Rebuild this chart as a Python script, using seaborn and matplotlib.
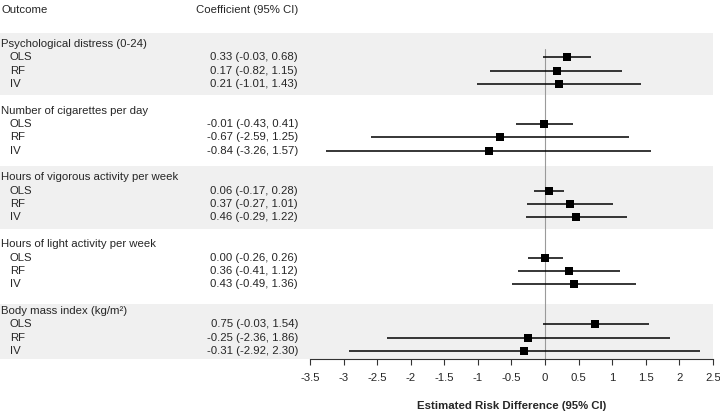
import matplotlib
matplotlib.use("Agg")
import matplotlib.pyplot as plt
import matplotlib.transforms as mtransforms
from matplotlib.patches import Rectangle
import seaborn as sns
import pandas as pd

# data
outcomes = [
    "Psychological distress (0-24)",
    "Number of cigarettes per day",
    "Hours of vigorous activity per week",
    "Hours of light activity per week",
    "Body mass index (kg/m\u00b2)",
]
methods = ["OLS", "RF", "IV"]
estimate = [0.33, 0.17, 0.21, -0.01, -0.67, -0.84, 0.06, 0.37, 0.46,
            0.00, 0.36, 0.43, 0.75, -0.25, -0.31]
lower = [-0.03, -0.82, -1.01, -0.43, -2.59, -3.26, -0.17, -0.27, -0.29,
         -0.26, -0.41, -0.49, -0.03, -2.36, -2.92]
upper = [0.68, 1.15, 1.43, 0.41, 1.25, 1.57, 0.28, 1.01, 1.22,
         0.26, 1.12, 1.36, 1.54, 1.86, 2.30]
xticks = [-3.5, -3, -2.5, -2, -1.5, -1, -0.5, 0, 0.5, 1, 1.5, 2, 2.5]

# row layout: each outcome = label row + 3 method rows + blank row
rows = []
for g, name in enumerate(outcomes):
    for m, meth in enumerate(methods):
        rows.append({"outcome": name, "method": meth, "row": 5 * g + 1 + m})
df = pd.DataFrame(rows)
df["est"] = estimate
df["lo"] = lower
df["hi"] = upper

sns.set_style("white")
plt.rcParams["font.family"] = ["Liberation Sans", "DejaVu Sans"]
fs = 8.2

fig = plt.figure(figsize=(7.2, 4.11), dpi=100)
ax = fig.add_axes([310 / 720, 52 / 411, 403 / 720, 326 / 411])
ylim = (23.6, -0.82)
ax.set_ylim(*ylim)
ax.set_xlim(-3.5, 2.5)

trans = mtransforms.blended_transform_factory(fig.transFigure, ax.transData)

# grey bands behind groups 1, 3, 5
for g in (0, 2, 4):
    top = 5 * g - (0.55 if g == 4 else 0.85)
    bottom = min(5 * g + 3.85, ylim[0])
    ax.add_patch(Rectangle((0, top), 713 / 720, bottom - top, transform=trans,
                           facecolor="#f0f0f0", edgecolor="none", clip_on=False, zorder=0))

# zero reference line
ax.plot([0, 0], [0.37, ylim[0]], color="#9a9a9a", lw=0.8, zorder=1)

# confidence intervals and point estimates
ax.hlines(df["row"], df["lo"], df["hi"], color="black", lw=1.1, zorder=2)
sns.scatterplot(data=df, x="est", y="row", marker="s", s=26, color="black",
                edgecolor="black", linewidth=0, ax=ax, zorder=3, legend=False)

# text columns
ax.text(1 / 720, -2.55, "Outcome", transform=trans, fontsize=fs, va="center", ha="left")
ax.text(298 / 720, -2.55, "Coefficient (95% CI)", transform=trans, fontsize=fs,
        va="center", ha="right")
for g, name in enumerate(outcomes):
    ax.text(1 / 720, 5 * g, name, transform=trans, fontsize=fs, va="center", ha="left")
for _, r in df.iterrows():
    ax.text(10 / 720, r["row"], r["method"], transform=trans, fontsize=fs,
            va="center", ha="left")
    ax.text(298 / 720, r["row"], f"{r['est']:.2f} ({r['lo']:.2f}, {r['hi']:.2f})",
            transform=trans, fontsize=fs, va="center", ha="right")

# axis styling
for s in ("top", "right", "left"):
    ax.spines[s].set_visible(False)
ax.spines["bottom"].set_color("#333333")
ax.spines["bottom"].set_linewidth(0.8)
ax.set_yticks([])
ax.set_xticks(xticks)
ax.set_xticklabels([f"{t:g}" for t in xticks], fontsize=fs)
ax.tick_params(axis="x", bottom=True, length=4, width=0.8, color="#333333", pad=6)
ax.set_xlabel("Estimated Risk Difference (95% CI)", fontsize=fs, fontweight="bold",
              labelpad=13)
ax.set_ylabel("")
ax.patch.set_alpha(0)

fig.savefig("out.png", dpi=100)
